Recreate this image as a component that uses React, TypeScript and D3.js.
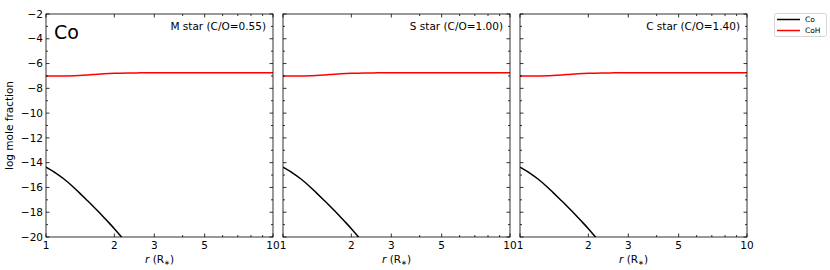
import { useRef, useEffect } from "react";
import * as d3 from "d3";

const panels = ["M star (C/O=0.55)", "S star (C/O=1.00)", "C star (C/O=1.40)"];
const coR = [1.0, 1.1, 1.2, 1.3, 1.4, 1.5, 1.6, 1.7, 1.8, 1.9, 2.0, 2.1, 2.2];
const coVal = [-14.37, -14.82, -15.32, -15.86, -16.42, -16.95, -17.45, -17.94, -18.42, -18.88, -19.33, -19.78, -20.21];
const cohR = [1.0, 1.2, 1.4, 1.6, 1.8, 2.0, 2.3, 2.6, 3.0, 5.0, 10.0];
const cohVal = [-7.0, -7.0, -6.96, -6.89, -6.83, -6.79, -6.76, -6.75, -6.74, -6.74, -6.74];
const xTickVals = [1, 2, 3, 5, 10];
const xMinor = [4, 6, 7, 8, 9];
const yTickVals = [-2, -4, -6, -8, -10, -12, -14, -16, -18, -20];
const yMinor = [-3, -5, -7, -9, -11, -13, -15, -17, -19];

const FONT = "DejaVu Sans, sans-serif";
const FS = 10.5;

export default function App() {
  const svgRef = useRef(null);

  useEffect(() => {
    const width = 830;
    const height = 270;
    const svg = d3.select(svgRef.current).attr("width", width).attr("height", height);
    svg.selectAll("*").remove();

    const top = 14;
    const bottom = 237;
    const pw = 227;
    const lefts = [46, 283, 520];

    const y = d3.scaleLinear().domain([-20, -2]).range([bottom, top]);

    lefts.forEach((left, p) => {
      const x = d3.scaleLog().domain([1, 10]).range([left, left + pw]);
      const g = svg.append("g");
      const clipId = "clip" + p;
      g.append("clipPath").attr("id", clipId)
        .append("rect").attr("x", left).attr("y", top).attr("width", pw).attr("height", bottom - top);

      const line = d3.line().x((d) => x(d[0])).y((d) => y(d[1])).curve(d3.curveMonotoneX);
      g.append("path")
        .attr("d", line(cohR.map((r, i) => [r, cohVal[i]])))
        .attr("fill", "none").attr("stroke", "#ff0000").attr("stroke-width", 1.5)
        .attr("clip-path", `url(#${clipId})`);
      g.append("path")
        .attr("d", line(coR.map((r, i) => [r, coVal[i]])))
        .attr("fill", "none").attr("stroke", "#000").attr("stroke-width", 1.5)
        .attr("clip-path", `url(#${clipId})`);

      // ticks (inward, all sides)
      const tk = (x1, y1, x2, y2) =>
        g.append("line").attr("x1", x1).attr("y1", y1).attr("x2", x2).attr("y2", y2)
          .attr("stroke", "#000").attr("stroke-width", 0.8);
      xTickVals.forEach((v) => { tk(x(v), bottom, x(v), bottom - 3.5); tk(x(v), top, x(v), top + 3.5); });
      xMinor.forEach((v) => { tk(x(v), bottom, x(v), bottom - 2); tk(x(v), top, x(v), top + 2); });
      yTickVals.forEach((v) => { tk(left, y(v), left + 3.5, y(v)); tk(left + pw, y(v), left + pw - 3.5, y(v)); });
      yMinor.forEach((v) => { tk(left, y(v), left + 2, y(v)); tk(left + pw, y(v), left + pw - 2, y(v)); });

      g.append("rect").attr("x", left).attr("y", top).attr("width", pw).attr("height", bottom - top)
        .attr("fill", "none").attr("stroke", "#000").attr("stroke-width", 0.8);

      xTickVals.forEach((v) => {
        g.append("text").attr("x", x(v)).attr("y", bottom + 12).attr("text-anchor", "middle")
          .attr("font-family", FONT).attr("font-size", FS).text(v);
      });

      if (p === 0) {
        yTickVals.forEach((v) => {
          g.append("text").attr("x", left - 3).attr("y", y(v) + 3.7).attr("text-anchor", "end")
            .attr("font-family", FONT).attr("font-size", FS).text("\u2212" + Math.abs(v));
        });
        g.append("text").attr("transform", `translate(13, ${(top + bottom) / 2}) rotate(-90)`)
          .attr("text-anchor", "middle").attr("font-family", FONT).attr("font-size", FS)
          .text("log mole fraction");
        g.append("text").attr("x", left + 8).attr("y", top + 25)
          .attr("font-family", FONT).attr("font-size", 19).text("Co");
      }

      g.append("text").attr("x", left + pw - 7).attr("y", top + 16).attr("text-anchor", "end")
        .attr("font-family", FONT).attr("font-size", FS).text(panels[p]);

      const xl = g.append("text").attr("x", left + pw / 2).attr("y", bottom + 26)
        .attr("text-anchor", "middle").attr("font-family", FONT).attr("font-size", FS);
      xl.append("tspan").attr("font-style", "italic").text("r");
      xl.append("tspan").text(" (R");
      xl.append("tspan").attr("font-size", 7).attr("dy", 2).text("\u2217");
      xl.append("tspan").attr("dy", -2).text(")");
    });

    // legend
    const lg = svg.append("g");
    lg.append("rect").attr("x", 774.5).attr("y", 13.5).attr("width", 52).attr("height", 23)
      .attr("rx", 2).attr("fill", "#fff").attr("stroke", "#ccc").attr("stroke-width", 0.8);
    [["Co", "#000"], ["CoH", "#ff0000"]].forEach((d, i) => {
      const yy = 19.5 + i * 11;
      lg.append("line").attr("x1", 777).attr("x2", 800).attr("y1", yy).attr("y2", yy)
        .attr("stroke", d[1]).attr("stroke-width", 1.5);
      lg.append("text").attr("x", 805).attr("y", yy + 2.8).attr("font-family", FONT)
        .attr("font-size", 7.5).text(d[0]);
    });
  }, []);

  return <svg ref={svgRef} style={{ position: "absolute", left: 0, top: 0 }}></svg>;
}
